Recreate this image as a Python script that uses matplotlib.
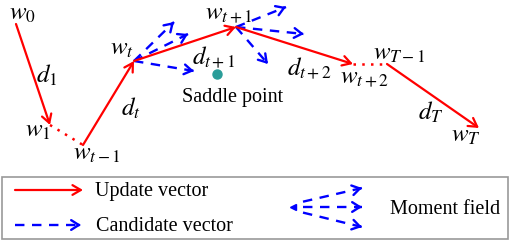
import matplotlib.pyplot as plt
import matplotlib.patches as mpatches

plt.rcParams['font.family'] = ['Liberation Serif', 'DejaVu Serif']
plt.rcParams['mathtext.fontset'] = 'stix'

# node positions (pixel coords of the picture)
nodes = {
    'w0': (16, 24), 'w1': (50, 125), 'wt1m': (83, 145), 'wt': (134, 61),
    'wt1': (236, 27), 'wt2': (353, 64), 'wT1': (387, 64), 'wT': (479, 128),
}
update_pairs = [('w0', 'w1'), ('wt1m', 'wt'), ('wt', 'wt1'), ('wt1', 'wt2'), ('wT1', 'wT')]
dotted_pairs = [('w1', 'wt1m'), ('wt2', 'wT1')]
cand_from = ['wt', 'wt', 'wt', 'wt1', 'wt1', 'wt1']
cand_to = [(174, 22), (188, 34), (194, 71), (286, 7), (304, 34), (268, 64)]
saddle = (217, 74)

labels = [
    (r'$w_0$', 22, 14), (r'$d_1$', 47, 75), (r'$w_1$', 38, 131), (r'$w_{t-1}$', 97, 154),
    (r'$d_t$', 131, 108), (r'$w_t$', 122, 49), (r'$d_{t+1}$', 214, 57),
    (r'$w_{t+1}$', 229, 14), (r'$d_{t+2}$', 309, 68), (r'$w_{t+2}$', 364, 78),
    (r'$w_{T-1}$', 399, 54), (r'$d_T$', 431, 112), (r'$w_T$', 466, 136),
]

red = '#ff0000'
blue = '#0000ff'

fig = plt.figure(figsize=(5.09, 2.41), dpi=100)
ax = fig.add_axes([0, 0, 1, 1])
ax.set_xlim(0, 509)
ax.set_ylim(241, 0)
ax.axis('off')


def arrow(p0, p1, color, lw=1.6):
    ax.annotate('', xy=p1, xytext=p0,
                arrowprops=dict(arrowstyle='->,head_length=0.6,head_width=0.35',
                                color=color, lw=lw, shrinkA=0, shrinkB=0))


def dashed_arrow(p0, p1, color=blue, lw=1.7):
    ax.plot([p0[0], p1[0]], [p0[1], p1[1]], color=color, lw=lw, ls=(0, (4, 3.2)),
            solid_capstyle='butt')
    dx, dy = p1[0] - p0[0], p1[1] - p0[1]
    n = (dx ** 2 + dy ** 2) ** 0.5
    q = (p1[0] - dx / n * 3, p1[1] - dy / n * 3)
    ax.annotate('', xy=p1, xytext=q,
                arrowprops=dict(arrowstyle='->,head_length=0.55,head_width=0.35',
                                color=color, lw=lw, shrinkA=0, shrinkB=0))


for a, b in dotted_pairs:
    p0, p1 = nodes[a], nodes[b]
    ax.plot([p0[0], p1[0]], [p0[1], p1[1]], color=red, lw=1.8, ls=(0, (1, 2.5)))

for f, t in zip(cand_from, cand_to):
    dashed_arrow(nodes[f], t)

for a, b in update_pairs:
    arrow(nodes[a], nodes[b], red)

ax.plot(*saddle, 'o', color='#2a9d99', ms=6.5)
ax.text(233, 102, 'Saddle point', fontsize=14.5, ha='center', va='baseline')

for s, x, y in labels:
    ax.text(x, y, s, fontsize=18, ha='center', va='center')

# legend box
ax.add_patch(mpatches.Rectangle((2, 177), 506, 62, fill=False, ec='#999999', lw=1.2))
arrow((15, 190), (83, 190), red)
ax.text(95, 196, 'Update vector', fontsize=14.5, va='baseline')
dashed_arrow((15, 225), (81, 225))
ax.text(96, 231, 'Candidate vector', fontsize=14.5, va='baseline')
ax.plot(293, 207, marker='<', color=blue, ms=5)
for ty in [188, 207, 227]:
    dashed_arrow((303, 207 + (ty - 207) * 0.28), (362, ty))
ax.text(390, 214, 'Moment field', fontsize=14.5, va='baseline')

fig.savefig('out.png', dpi=100)
